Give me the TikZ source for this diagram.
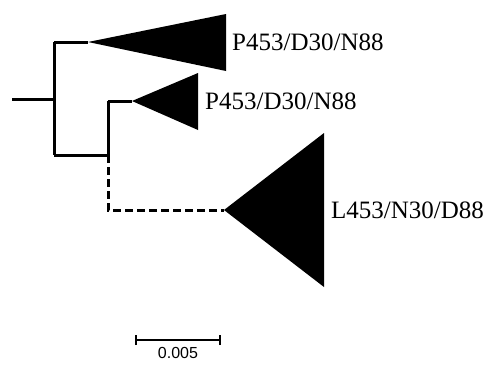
\documentclass[tikz,border=0pt]{standalone}
\usepackage{fontspec}
\setmainfont{Liberation Serif}
\newfontfamily\barfont{Liberation Sans}
\begin{document}
\begin{tikzpicture}[x=1pt,y=-1pt,
  branch/.style={line width=3pt},
  gapbranch/.style={line width=3pt, dash pattern=on 8pt off 4pt},
  clade/.style={fill=black},
  taxon/.style={font=\fontsize{25}{27}\selectfont, anchor=west, inner sep=0pt},
  scalebar/.style={line width=1.6pt}]
\useasboundingbox (0,0) rectangle (490,365);

% branch points
\coordinate (root) at (12,99);
\coordinate (n0) at (54,99);
\coordinate (n0top) at (54,42);
\coordinate (n0bot) at (54,155);
\coordinate (n1) at (108,155);
\coordinate (n1top) at (108,101);
\coordinate (n1bot) at (108,210);

% collapsed clades
\coordinate (c1) at (88,42);
\coordinate (c2) at (132,101);
\coordinate (c3) at (224,210);
\fill[clade] (c1) -- (226,14) -- (226,71) -- cycle;
\fill[clade] (c2) -- (198,73) -- (198,130) -- cycle;
\fill[clade] (c3) -- (324,133) -- (324,287) -- cycle;

% tree
\draw[branch] (root) -- (n0);
\draw[branch] (n0top) -- (n0bot);
\draw[branch] (n0top) -- (c1);
\draw[branch] (n0bot) -- (n1);
\draw[branch] (n1top) -- (n1);
\draw[branch] (n1top) -- (c2);
\draw[gapbranch] (n1) -- (n1bot) -- (c3);

% clade labels
\node[taxon] (t1) at (232,42) {P453/D30/N88};
\node[taxon] (t2) at (205,101) {P453/D30/N88};
\node[taxon] (t3) at (331,210) {L453/N30/D88};

% scale bar
\coordinate (s0) at (136,340);
\coordinate (s1) at (220,340);
\draw[scalebar] (s0) -- (s1);
\draw[scalebar] ([yshift=-5pt]s0) -- ([yshift=5pt]s0);
\draw[scalebar] ([yshift=-5pt]s1) -- ([yshift=5pt]s1);
\node[font=\barfont\fontsize{16}{17}\selectfont, anchor=base, inner sep=0pt, text depth=0pt] (sl) at (178,358) {0.005};
\end{tikzpicture}
\end{document}
